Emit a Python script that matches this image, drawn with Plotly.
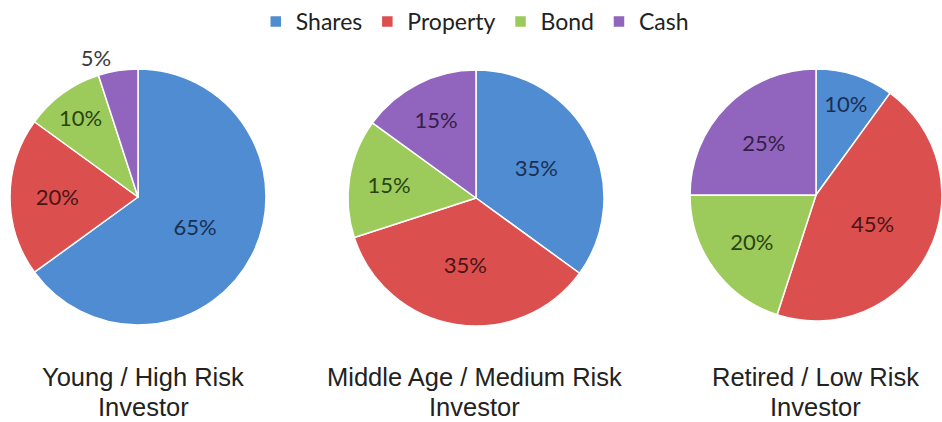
import plotly.graph_objects as go

# Asset allocation by investor profile
assets = ["Shares", "Property", "Bond", "Cash"]
young_high_risk = [65, 20, 10, 5]
middle_medium_risk = [35, 35, 15, 15]
retired_low_risk = [10, 45, 20, 25]

profile_line1 = ["Young / High Risk", "Middle Age / Medium Risk", "Retired / Low Risk"]
profile_line2 = ["Investor", "Investor", "Investor"]

slice_colors = ["#4f8cd1", "#dc4f4f", "#9dcb5b", "#9165bd"]
label_colors = ["#1a2f55", "#4a1515", "#2a4312", "#35204a"]

label_font = "Lato, 'Open Sans', sans-serif"
title_font = "'Liberation Sans', Arial, sans-serif"

domains = [
    dict(x=[0.0106, 0.2824], y=[0.2299, 0.8365]),
    dict(x=[0.3694, 0.6412], y=[0.2275, 0.8341]),
    dict(x=[0.7325, 1.0], y=[0.2393, 0.8365]),
]
title_centers = [143 / 942, 474 / 942, 815 / 942]

series = [young_high_risk, middle_medium_risk, retired_low_risk]
positions = [
    ["inside", "inside", "inside", "outside"],
    ["inside"] * 4,
    ["inside"] * 4,
]

fig = go.Figure()
for i, (vals, dom, pos) in enumerate(zip(series, domains, positions)):
    txt_colors = [("#3a3a3a" if p == "outside" else c) for p, c in zip(pos, label_colors)]
    fig.add_trace(go.Pie(
        labels=assets,
        values=vals,
        domain=dom,
        sort=False,
        direction="clockwise",
        rotation=0,
        texttemplate="%{value}%",
        textposition=pos,
        insidetextorientation="horizontal",
        textfont=dict(family=label_font, size=22, color=txt_colors),
        marker=dict(colors=slice_colors, line=dict(color="white", width=1.5)),
        showlegend=(i == 0),
        hoverinfo="label+percent",
    ))

# Two-line captions under each pie
annotations = []
for cx, l1, l2 in zip(title_centers, profile_line1, profile_line2):
    annotations.append(dict(x=cx, y=30 / 422, xref="paper", yref="paper",
                            text=l1, showarrow=False, xanchor="center", yanchor="bottom",
                            borderpad=0,
                            font=dict(family=title_font, size=25.5, color="#222222")))
    annotations.append(dict(x=cx, y=0, xref="paper", yref="paper",
                            text=l2, showarrow=False, xanchor="center", yanchor="bottom",
                            borderpad=0,
                            font=dict(family=title_font, size=25.5, color="#222222")))

fig.update_layout(
    width=942,
    height=422,
    margin=dict(l=0, r=0, t=0, b=0),
    paper_bgcolor="white",
    plot_bgcolor="white",
    annotations=annotations,
    legend=dict(
        orientation="h",
        x=0.504,
        xanchor="center",
        y=1.0,
        yanchor="top",
        font=dict(family=label_font, size=23, color="#222222"),
        traceorder="normal",
    ),
)

fig.write_html("out.html")
